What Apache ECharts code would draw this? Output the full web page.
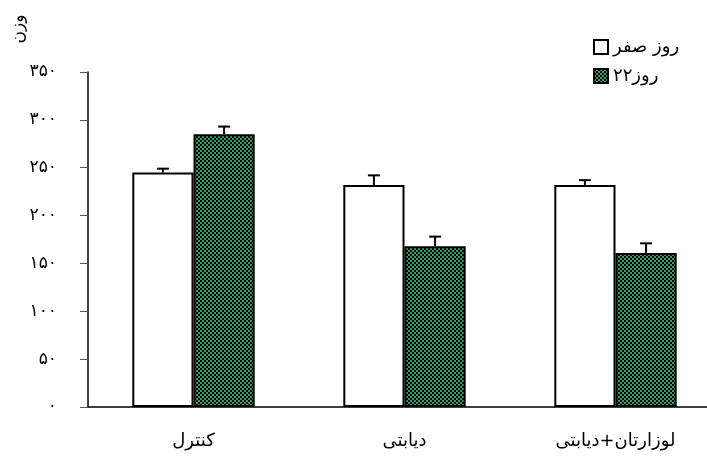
<!DOCTYPE html>
<html>
<head>
<meta charset="utf-8">
<script src="https://cdn.jsdelivr.net/npm/echarts@6/dist/echarts.min.js"></script>
<style>
html,body{margin:0;padding:0;background:#fff;}
#main{width:707px;height:467px;}
</style>
</head>
<body>
<div id="main"></div>
<script>
// ---- data ----
var categories = ['کنترل', 'دیابتی', 'لوزارتان+دیابتی'];
var seriesNames = ['روز صفر', '۲۲روز'];
var day0Values = [245, 232, 232];
var day0Errors = [4, 10, 5];
var day22Values = [285, 168, 161];
var day22Errors = [8, 10, 10];
var yTicks = [0, 50, 100, 150, 200, 250, 300, 350];

function toFa(n) {
  var d = '۰۱۲۳۴۵۶۷۸۹';
  return String(n).replace(/[0-9]/g, function (c) { return d[+c]; });
}

// checkered pattern
var pc = document.createElement('canvas');
pc.width = 4; pc.height = 4;
var g = pc.getContext('2d');
g.fillStyle = '#33a062'; g.fillRect(0, 0, 4, 4);
g.fillStyle = '#000000';
g.fillRect(0, 0, 2, 2); g.fillRect(2, 2, 2, 2);

var BAR_FRAC = 0.29;
var FONT = 'DejaVu Sans';

function errRender(values, errors, dir) {
  return function (params, api) {
    var i = api.value(0);
    var v = values[i], e = errors[i];
    var band = api.size([1, 0])[0];
    var off = dir * band * BAR_FRAC / 2;
    var p0 = api.coord([i, v]);
    var p1 = api.coord([i, v + e]);
    var x = p0[0] + off;
    var hw = 6;
    return {
      type: 'group',
      children: [
        { type: 'line', shape: { x1: x, y1: p0[1], x2: x, y2: p1[1] }, style: { stroke: '#000', lineWidth: 2 } },
        { type: 'line', shape: { x1: x - hw, y1: p1[1], x2: x + hw, y2: p1[1] }, style: { stroke: '#000', lineWidth: 2 } }
      ]
    };
  };
}

var chart = echarts.init(document.getElementById('main'), null, { renderer: 'canvas' });
chart.setOption({
  animation: false,
  backgroundColor: '#fff',
  grid: { left: 88, top: 72, bottom: 60, width: 633, outerBoundsMode: 'none', containLabel: false },
  legend: {
    data: seriesNames,
    orient: 'vertical',
    left: 588,
    top: 33,
    icon: 'rect',
    itemWidth: 14,
    itemHeight: 14,
    itemGap: 11,
    textStyle: { fontFamily: FONT, fontSize: 18, color: '#000' }
  },
  graphic: [{
    type: 'text',
    x: 19, y: 29,
    rotation: Math.PI / 2,
    style: { text: 'وزن', fontFamily: FONT, fontSize: 17, fill: '#000', align: 'center', verticalAlign: 'middle' }
  }],
  xAxis: {
    type: 'category',
    data: categories,
    axisLine: { lineStyle: { color: '#000', width: 1.5 } },
    axisTick: { show: false },
    axisLabel: { interval: 0, margin: 25, fontFamily: FONT, fontSize: 18, color: '#000' }
  },
  yAxis: {
    type: 'value',
    min: yTicks[0],
    max: yTicks[yTicks.length - 1],
    interval: 50,
    splitLine: { show: false },
    axisLine: { show: true, lineStyle: { color: '#000', width: 1.5 } },
    axisTick: { show: true, length: 8, lineStyle: { color: '#555' } },
    axisLabel: { margin: 31, fontFamily: FONT, fontSize: 17, color: '#000', formatter: function (v) { return toFa(v); } }
  },
  series: [
    {
      name: seriesNames[0], type: 'bar', data: day0Values,
      barWidth: (BAR_FRAC * 100) + '%', barGap: '0%',
      itemStyle: { color: '#fff', borderColor: '#000', borderWidth: 2 }
    },
    {
      name: seriesNames[1], type: 'bar', data: day22Values,
      barWidth: (BAR_FRAC * 100) + '%', barGap: '0%',
      itemStyle: { color: { image: pc, repeat: 'repeat' }, borderColor: '#000', borderWidth: 2 }
    },
    {
      type: 'custom', renderItem: errRender(day0Values, day0Errors, -1),
      data: categories.map(function (c, i) { return [i]; }), z: 1, silent: true
    },
    {
      type: 'custom', renderItem: errRender(day22Values, day22Errors, 1),
      data: categories.map(function (c, i) { return [i]; }), z: 1, silent: true
    }
  ]
});
</script>
</body>
</html>
